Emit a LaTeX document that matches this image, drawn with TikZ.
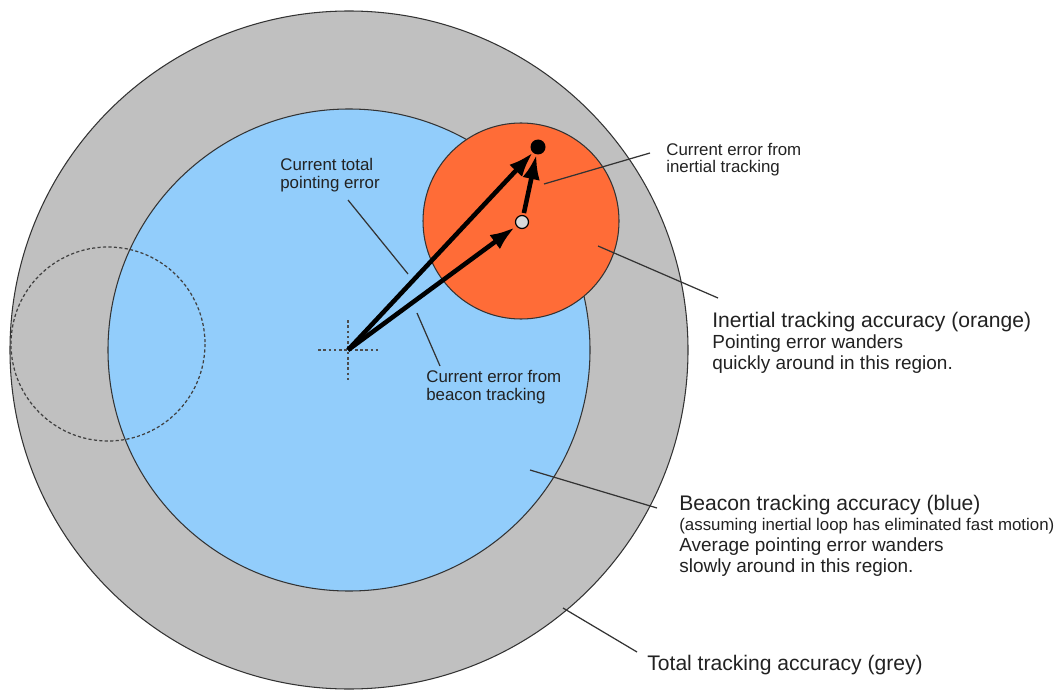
\documentclass[tikz,border=0pt]{standalone}
\usepackage{fontspec}
\setmainfont{Liberation Sans}
\usetikzlibrary{arrows.meta}

\definecolor{greyring}{HTML}{C0C0C0}
\definecolor{beaconblue}{HTML}{92CDFB}
\definecolor{inertorange}{HTML}{FF6C37}
\definecolor{inktext}{HTML}{222222}

\tikzset{
    region/.style={draw=black!80, line width=0.6pt},
    leader/.style={draw=black!80, line width=0.7pt},
    errarrow/.style={line width=2.6pt, -{Latex[length=14pt,width=10pt]}},
    bigtxt/.style={anchor=base west, inner sep=0pt, text=inktext, font=\fontsize{12}{14}\selectfont},
    midtxt/.style={anchor=base west, inner sep=0pt, text=inktext, font=\fontsize{10.8}{13}\selectfont},
    smalltxt/.style={anchor=base west, inner sep=0pt, text=inktext, font=\fontsize{9.6}{11}\selectfont},
    tinytxt/.style={anchor=base west, inner sep=0pt, text=inktext, font=\fontsize{9.6}{11}\selectfont}
}

\begin{document}
\begin{tikzpicture}[x=0.02cm, y=-0.02cm]
        \useasboundingbox (0,0) rectangle (1060,689);

        % Draw the three accuracy regions
        \fill[white] (0,0) rectangle (1060,689);
        \draw[region, fill=greyring] (349,350) circle (339);
        \draw[region, fill=beaconblue] (349,350) circle (241);
        \draw[region, fill=inertorange] (521,221) circle (98);

        % Dashed circle on the left
        \draw[black!75, line width=0.7pt, dash pattern=on 1.8pt off 1.3pt] (108,344) circle (97);

        % Crosshair at the centre
        \coordinate (ctr) at (348,350);
        \draw[black!70, line width=0.7pt, dash pattern=on 1.5pt off 1.5pt] (318,350) -- (378,350);
        \draw[black!70, line width=0.7pt, dash pattern=on 1.5pt off 1.5pt] (348,320) -- (348,380);

        % Error dots
        \node[circle, fill=black, inner sep=0pt, minimum size=15*0.02cm] (tip) at (538,147) {};
        \node[circle, draw=black, line width=0.7pt, fill=black!15, inner sep=0pt, minimum size=13*0.02cm, outer sep=1.5pt] (mid) at (522,222) {};

        % Error arrows
        \draw[errarrow] (ctr) -- (tip);
        \draw[errarrow] (ctr) -- (mid);
        \draw[errarrow] (mid) -- (tip);

        % Leader lines
        \coordinate (tot1) at (348,200);   \coordinate (tot2) at (408,274);
        \coordinate (bea1) at (417,313);   \coordinate (bea2) at (440,366);
        \coordinate (ine1) at (544,184);   \coordinate (ine2) at (650,153);
        \coordinate (org1) at (598,246);   \coordinate (org2) at (718,298);
        \coordinate (blu1) at (530,470);   \coordinate (blu2) at (657,508);
        \coordinate (gry1) at (563,608);   \coordinate (gry2) at (637,652);
        \foreach \a/\b in {tot1/tot2, bea1/bea2, ine1/ine2, org1/org2, blu1/blu2, gry1/gry2} {
            \draw[leader] (\a) -- (\b);
        }

        % Small labels
        \node[smalltxt] (totA) at (280,171) {Current total};
        \node[smalltxt] (totB) at (280,189) {pointing error};
        \node[smalltxt] (beaA) at (426,382) {Current error from};
        \node[smalltxt] (beaB) at (426,400) {beacon tracking};
        \node[smalltxt] (ineA) at (666,155) {Current error from};
        \node[smalltxt] (ineB) at (666,173) {inertial tracking};

        % Region labels
        \node[bigtxt] (orgA) at (712,327) {Inertial tracking accuracy (orange)};
        \node[midtxt] (orgB) at (712,348) {Pointing error wanders};
        \node[midtxt] (orgC) at (712,369) {quickly around in this region.};

        \node[bigtxt] (bluA) at (679,510) {Beacon tracking accuracy (blue)};
        \node[tinytxt] (bluB) at (679,530) {(assuming inertial loop has eliminated fast motion)};
        \node[midtxt] (bluC) at (679,551) {Average pointing error wanders};
        \node[midtxt] (bluD) at (679,572) {slowly around in this region.};

        \node[bigtxt] (gryA) at (647,670) {Total tracking accuracy (grey)};

        \end{tikzpicture}
\end{document}
